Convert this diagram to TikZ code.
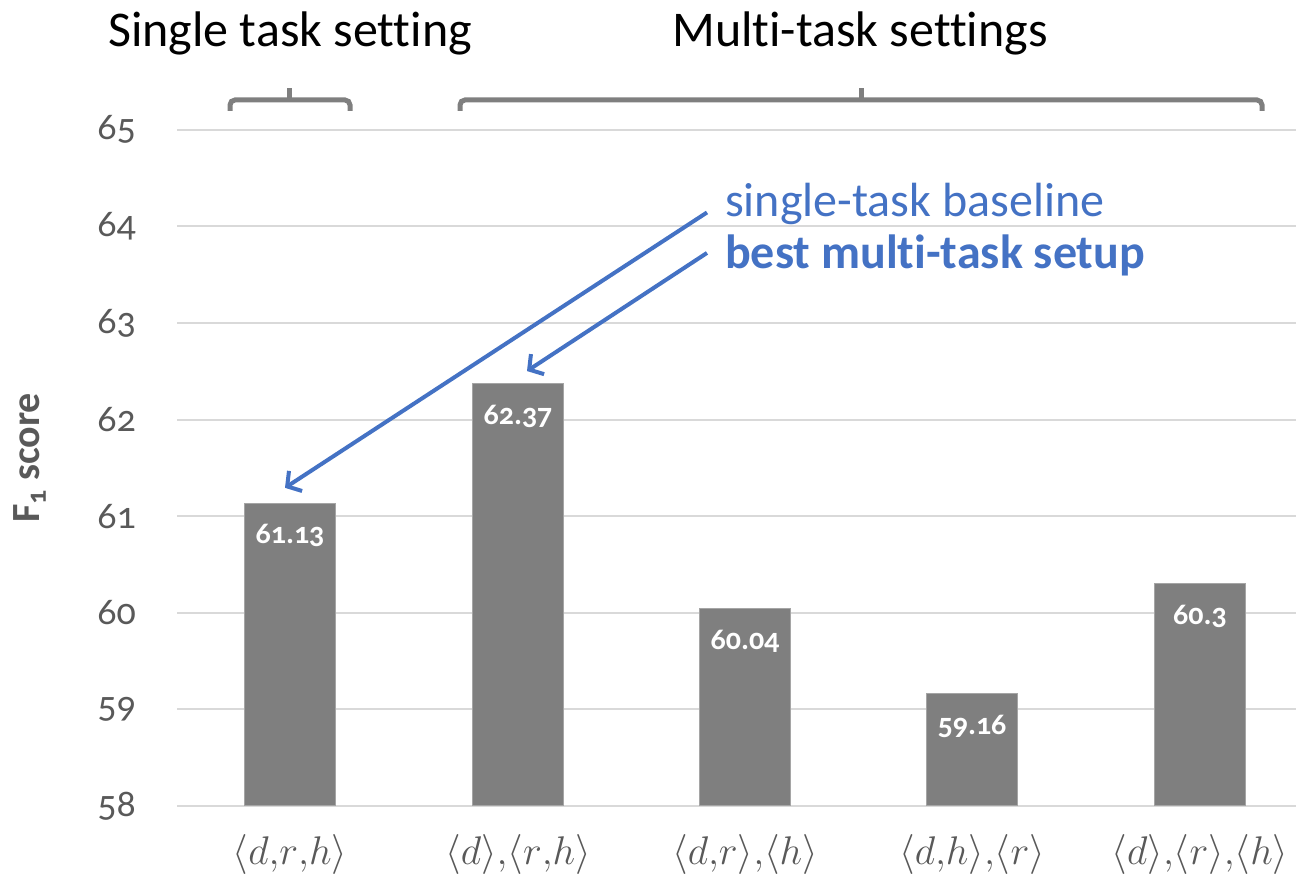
\RequirePackage{fix-cm}
\documentclass[tikz,border=0pt]{standalone}
\usepackage{fontspec}
\setmainfont[Numbers=OldStyle,Ligatures=NoCommon]{Carlito}
\usepackage{amsmath}
\usetikzlibrary{arrows.meta}

\definecolor{bargray}{HTML}{7F7F7F}
\definecolor{axisgray}{HTML}{595959}
\definecolor{linegray}{HTML}{D9D9D9}
\definecolor{noteblue}{HTML}{4472C4}

\begin{document}
\begin{tikzpicture}
            [x=1pt,y=1pt,
             bar/.style={fill=bargray,draw=bargray!70!white,line width=0.8pt,anchor=south,minimum width=91pt,inner sep=0pt},
             barval/.style={text=white,inner sep=0pt,font=\fontsize{30}{34}\selectfont\bfseries},
             gridline/.style={draw=linegray,line width=2pt},
             ticklab/.style={text=axisgray,anchor=east,inner sep=0pt,font=\fontsize{38}{44}\selectfont},
             xlab/.style={text=axisgray,inner sep=0pt,font=\fontsize{40}{46}\selectfont},
             title/.style={text=black,inner sep=0pt,font=\fontsize{50}{56}\selectfont},
             brace/.style={draw=bargray,line width=5pt,rounded corners=5pt},
             note/.style={text=noteblue,anchor=base west,inner sep=0pt,font=\fontsize{48}{54}\selectfont},
             pointer/.style={draw=noteblue,line width=4pt,-{Straight Barb[length=10pt,width=24pt]}}]
            \useasboundingbox (0,0) rectangle (1296,885);

            % grid and axis values
            \foreach \val in {58,...,65} {
                \draw[gridline] (177,{79+(\val-58)*96.6}) -- (1296,{79+(\val-58)*96.6});
                \node[ticklab] (t\val) at (136,{79+(\val-58)*96.6}) {\val};
            }
            \node[text=axisgray,rotate=90,font=\fontsize{40}{46}\selectfont\bfseries] (ylab) at (30,427) {F\textsubscript{1} score};

            % bars
            \foreach \xc/\val/\n in {290/61.13/1, 518/62.37/2, 745/60.04/3, 972/59.16/4, 1200/60.3/5} {
                \node[bar,minimum height={(\val-58)*96.6}] (b\n) at (\xc,79) {};
                \node[barval] (v\n) at ([yshift=-33pt]b\n.north) {\val};
            }
            \foreach \xc/\lab/\n in {290/{$\langle d{,}r{,}h\rangle$}/1, 518/{$\langle d\rangle{,}\langle r{,}h\rangle$}/2,
                                     745/{$\langle d{,}r\rangle{,}\langle h\rangle$}/3, 972/{$\langle d{,}h\rangle{,}\langle r\rangle$}/4,
                                     1200/{$\langle d\rangle{,}\langle r\rangle{,}\langle h\rangle$}/5}
                \node[xlab] (x\n) at (\xc,30) {\lab};

            % settings
            \node[title] (single) at (290,852) {Single task setting};
            \node[title] (multi) at (860,852) {Multi-task settings};
            \draw[brace] (230,774) |- (350,785) -- (350,774);
            \draw[brace] (289,785) -- (289,797);
            \draw[brace] (460,774) |- (1262,785) -- (1262,774);
            \draw[brace] (861,785) -- (861,797);

            % notes
            \node[note] (base) at (725,668) {single-task baseline};
            \node[note,font=\fontsize{48}{54}\selectfont\bfseries] (best) at (725,616) {best multi-task setup};
            \draw[pointer] ([xshift=-18pt,yshift=-8pt]base.west) -- ([shift={(-5pt,15pt)}]b1.north);
            \draw[pointer] ([xshift=-18pt,yshift=3pt]best.west) -- ([shift={(9pt,12pt)}]b2.north);
        \end{tikzpicture}
\end{document}
